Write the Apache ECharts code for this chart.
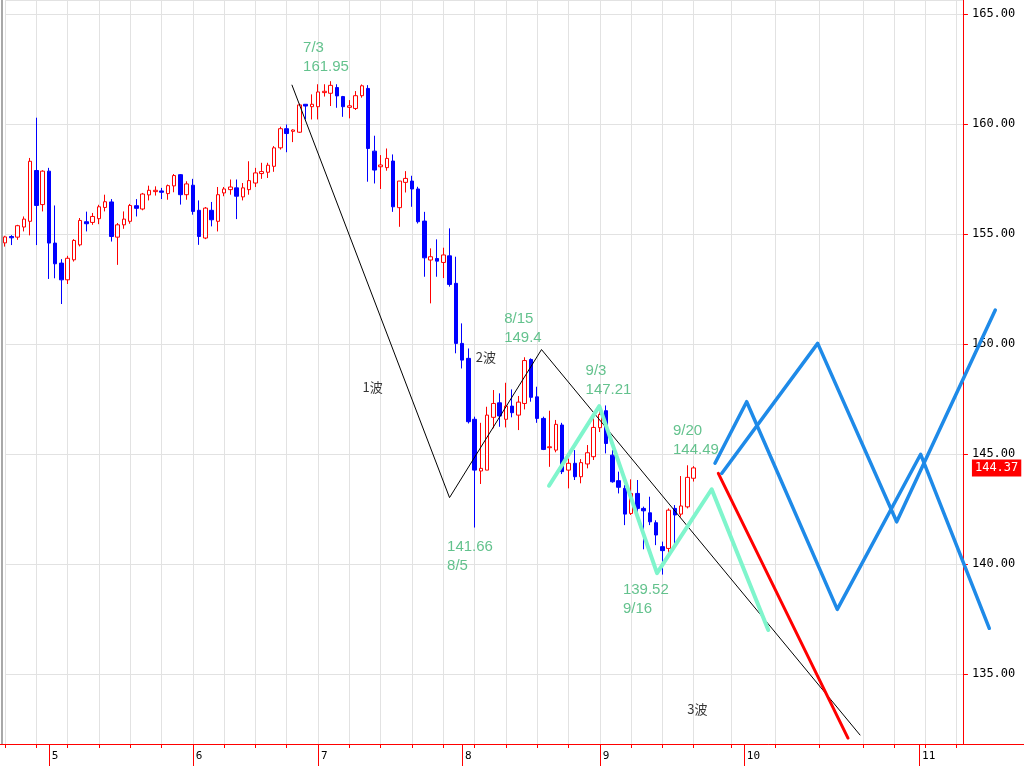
<!DOCTYPE html>
<html><head><meta charset="utf-8">
<script src="https://cdn.jsdelivr.net/npm/echarts@6/dist/echarts.min.js"></script>
<style>html,body{margin:0;padding:0;background:#fff}#c{width:1024px;height:768px}</style>
</head><body><div id="c"></div>
<script>
// ---- candle data ----
const opens  = [154.60,154.89,154.86,155.32,155.58,157.89,156.34,157.86,154.59,153.68,
152.92,153.83,154.51,155.56,155.53,155.70,156.21,156.46,154.86,155.42,
155.58,156.29,156.14,156.78,156.93,156.96,156.84,157.19,157.70,156.79,
157.22,156.08,154.82,156.08,155.58,156.87,157.02,157.10,156.69,157.02,
157.32,157.75,157.81,158.08,158.92,159.79,159.67,159.63,160.90,160.79,
160.79,161.43,161.40,161.66,161.25,160.76,160.71,161.29,161.62,158.77,
158.06,158.02,158.32,156.20,157.35,157.41,157.05,155.59,153.82,153.89,
153.71,154.01,152.76,150.03,149.35,146.58,144.23,144.27,146.67,147.33,
146.58,147.18,146.77,147.30,149.30,147.60,146.62,145.29,145.18,146.32,
144.27,144.58,143.97,144.55,144.88,146.20,146.97,144.95,143.79,143.44,
142.30,143.21,142.53,142.33,141.88,140.79,140.71,142.53,142.27,142.60,
143.90];
const highs  = [154.92,154.95,155.42,155.80,158.46,160.29,157.90,158.01,156.30,153.86,
154.01,154.77,155.73,156.02,155.96,156.33,156.79,156.59,155.50,156.03,
156.37,156.59,156.87,157.20,157.17,157.10,157.25,157.73,157.73,157.40,
157.51,156.53,156.23,156.46,157.14,157.14,157.48,157.48,157.32,158.31,
158.01,158.24,158.24,159.00,159.88,159.98,159.76,160.93,160.90,161.35,
161.81,161.81,161.95,161.81,161.28,161.09,161.50,161.80,161.77,159.47,
158.59,158.89,158.62,157.41,157.86,157.65,157.15,156.01,154.35,154.76,
154.38,155.26,153.97,150.94,149.80,146.70,146.42,147.15,147.91,147.76,
148.24,147.94,147.64,149.40,149.35,148.06,146.70,146.97,146.55,146.42,
144.80,145.18,144.77,145.41,146.67,147.10,147.21,145.18,144.20,143.59,
143.85,143.82,142.61,143.06,141.99,141.02,142.53,142.68,144.00,144.49,
144.45];
const lows   = [154.43,154.50,154.74,155.12,154.94,154.50,156.03,152.96,152.99,151.82,
152.73,153.75,154.44,155.12,155.42,155.45,156.03,154.66,153.60,155.24,
155.47,155.80,156.08,156.53,156.75,156.59,156.56,156.90,156.34,156.56,
155.88,154.51,154.77,155.35,155.12,156.72,156.79,155.68,156.53,156.79,
157.14,157.51,157.55,157.83,158.84,158.72,159.18,159.60,160.21,160.21,
160.21,161.25,160.82,160.74,160.33,160.26,160.64,161.20,157.38,157.30,
157.05,157.88,156.01,155.33,156.89,156.24,155.48,153.06,151.85,153.06,
153.00,152.61,149.58,148.89,146.39,141.66,143.64,144.27,146.17,146.24,
146.21,146.67,146.09,147.03,147.38,146.42,145.18,144.42,145.08,144.09,
143.44,143.82,143.67,144.35,144.73,146.00,145.03,143.70,143.21,141.77,
142.23,142.08,140.67,141.77,140.86,139.52,140.33,140.79,142.15,142.53,
143.75];
const closes = [154.87,154.83,155.38,155.68,158.31,156.30,157.86,154.59,153.65,152.92,
153.90,154.71,155.62,155.47,155.80,156.24,156.47,154.89,155.42,155.68,
156.30,156.17,156.82,156.99,156.99,156.90,157.20,157.66,156.79,157.28,
156.03,154.89,156.18,155.65,156.79,157.05,157.14,156.72,157.10,157.43,
157.78,157.84,158.13,158.92,159.79,159.57,159.73,160.87,160.82,160.90,
161.46,161.49,161.76,161.28,160.79,160.83,161.29,161.74,158.89,157.91,
158.14,158.44,156.24,157.41,157.53,157.05,155.56,153.92,153.97,153.77,
154.05,152.71,150.03,149.27,146.47,144.27,144.35,146.77,147.30,146.73,
147.18,146.88,147.36,149.25,147.58,146.62,145.21,145.33,146.35,144.20,
144.58,143.97,144.61,145.06,146.21,146.80,145.48,143.74,143.49,142.27,
143.21,142.53,142.42,141.92,141.32,140.61,142.45,142.23,142.64,143.94,
144.37];
const lastPrice = 144.37;
const slotCount = 154;

// ---- axis ticks ----
const weekIdx = [0,5,10,15,20,25,30,35,40,45,50,55,60,65,70,75,80,85,90,95,100,105,110,
                 116,123,130,137,142,147,152];
const monthIdx = [7,30,50,73,95,118,146];
const monthLabels = ['5','6','7','8','9','10','11'];

// ---- wave lines (x in slot units, y in price) ----
const blackX = [45.84, 71.0, 85.69, 136.56];
const blackY = [161.77, 143.02, 149.75, 132.23];
const cyanX  = [86.89, 94.92, 104.14, 112.87, 121.91];
const cyanY  = [143.56, 147.18, 139.59, 143.40, 137.00];
const redX   = [113.93, 134.64];
const redY   = [144.12, 132.09];
const blueAX = [113.4, 118.46, 132.93, 146.25, 157.21];
const blueAY = [144.58, 147.38, 137.94, 144.99, 137.08];
const blueBX = [114.47, 129.8, 142.42, 158.17];
const blueBY = [144.12, 150.03, 141.92, 151.55];

// ---- annotations ----
const annIdx   = [52, 83, 96, 109, 75, 105];
const annPrice = [161.95, 149.4, 147.21, 144.49, 141.66, 139.52];
const annText  = ['7/3\n161.95','8/15\n149.4','9/3\n147.21','9/20\n144.49','141.66\n8/5','139.52\n9/16'];
const annOff   = [[-27,-42],[-20,-47],[-20,-44],[-14,-43],[-27,10],[-39,6]];
const waveX = [58.7, 76.8, 110.6];
const waveY = [148.06, 149.40, 133.41];
const waveText = ['1波','2波','3波'];

// categories (trading days, then future slots)
const categories = [];
{
  const d = new Date(2024, 3, 22);
  while (categories.length < opens.length) {
    const wd = d.getDay();
    if (wd !== 0 && wd !== 6) categories.push((d.getMonth()+1) + '/' + d.getDate());
    d.setDate(d.getDate() + 1);
  }
  let k = 1;
  while (categories.length < slotCount) categories.push('+' + (k++));
}

const candles = opens.map((o, i) => [o, closes[i], lows[i], highs[i]]);
const zip = (xs, ys) => xs.map((x, i) => [x, ys[i]]);
const yMin = 131.82, yMax = 165.64;

// layout: plot area starts at x=5 (first slot) and each slot is SLOT px wide
const W = 1024, LEFT = 5, SLOT = 6.261;
const plotRight = W - LEFT - SLOT * (slotCount - 1);
const fullMin = -LEFT / SLOT, fullMax = (W - LEFT) / SLOT;

function lineSeries(xs, ys, color, width, z) {
  return { type: 'line', xAxisIndex: 3, yAxisIndex: 2, data: zip(xs, ys), symbol: 'none',
    clip: false, silent: true, z: z,
    lineStyle: { color: color, width: width, cap: 'round', join: 'round' } };
}

const chart = echarts.init(document.getElementById('c'), null, { renderer: 'canvas' });
chart.setOption({
  animation: false,
  backgroundColor: '#ffffff',
  grid: [
    { left: LEFT, right: plotRight, top: 0, bottom: 24 },
    { left: 0, right: 0, top: 0, bottom: 24 }
  ],
  xAxis: [
    { type: 'category', gridIndex: 0, data: categories, boundaryGap: false, position: 'bottom',
      axisLine: { show: false, onZero: false },
      axisTick: { show: true, length: 4, interval: (i) => weekIdx.includes(i), lineStyle: { color: '#ff0000' } },
      axisLabel: { show: false },
      splitLine: { show: true, interval: (i) => weekIdx.includes(i), lineStyle: { color: '#e2e2e2', width: 1 } } },
    { type: 'value', gridIndex: 0, min: 0, max: slotCount - 1, show: false },
    { type: 'category', gridIndex: 0, data: categories, boundaryGap: false, position: 'bottom',
      axisLine: { show: false, onZero: false },
      axisTick: { show: true, length: 22, interval: (i) => monthIdx.includes(i), lineStyle: { color: '#ff0000' } },
      axisLabel: { show: true, interval: (i) => monthIdx.includes(i),
        formatter: (v, i) => { const k = monthIdx.indexOf(i); return k >= 0 ? monthLabels[k] : ''; },
        align: 'left', padding: [0, 0, 0, 3], margin: 7, color: '#000',
        fontFamily: 'DejaVu Sans Mono', fontSize: 11 },
      splitLine: { show: false } },
    { type: 'value', gridIndex: 1, min: fullMin, max: fullMax, position: 'bottom',
      axisLine: { show: true, onZero: false, lineStyle: { color: '#ff0000', width: 1 } },
      axisTick: { show: false }, axisLabel: { show: false }, splitLine: { show: false } }
  ],
  yAxis: [
    { type: 'value', gridIndex: 0, position: 'right', min: yMin, max: yMax,
      axisLine: { show: true, onZero: false, lineStyle: { color: '#ff0000', width: 1 } },
      axisTick: { show: true, length: 5, lineStyle: { color: '#ff0000' } },
      axisLabel: { margin: 9, color: '#000', fontFamily: 'DejaVu Sans Mono', fontSize: 12,
        formatter: (v) => v.toFixed(2), showMinLabel: false, showMaxLabel: false },
      splitLine: { show: true, lineStyle: { color: '#e2e2e2', width: 1 } } },
    { type: 'value', gridIndex: 0, position: 'left', offset: 3, min: yMin, max: yMax,
      axisLine: { show: true, onZero: false, lineStyle: { color: '#a8a8a8', width: 2 } },
      axisTick: { show: false }, axisLabel: { show: false }, splitLine: { show: false } },
    { type: 'value', gridIndex: 1, min: yMin, max: yMax,
      axisLine: { show: false, onZero: false }, axisTick: { show: false },
      axisLabel: { show: false }, splitLine: { show: false } }
  ],
  series: [
    { type: 'candlestick', xAxisIndex: 0, yAxisIndex: 0, data: candles, barWidth: 4, clip: false, z: 3,
      itemStyle: { color: '#ffffff', color0: '#0000ff', borderColor: '#ff0000', borderColor0: '#0000ff', borderWidth: 1 } },
    { type: 'line', xAxisIndex: 1, yAxisIndex: 0, data: [[slotCount - 1, lastPrice]], symbol: 'none',
      clip: false, silent: true, z: 9, lineStyle: { width: 0 },
      markLine: { symbol: ['none', 'none'], silent: true, animation: false,
        lineStyle: { width: 0, color: 'rgba(0,0,0,0)' },
        label: { show: true, position: 'end', distance: 9, formatter: () => lastPrice.toFixed(2),
          color: '#ffffff', backgroundColor: '#ff0000', padding: [3, 3, 2, 3],
          fontFamily: 'DejaVu Sans Mono', fontSize: 12 },
        data: [{ yAxis: lastPrice }] } },
    lineSeries(blackX, blackY, '#000000', 1, 4),
    lineSeries(cyanX, cyanY, '#7ff5cc', 4, 5),
    lineSeries(redX, redY, '#ff0000', 3, 6),
    lineSeries(blueAX, blueAY, '#1e8ae8', 3.5, 7),
    lineSeries(blueBX, blueBY, '#1e8ae8', 3.5, 7),
    { type: 'scatter', xAxisIndex: 3, yAxisIndex: 2, symbolSize: 1, silent: true, z: 8,
      itemStyle: { color: 'rgba(0,0,0,0)' },
      data: annIdx.map((x, i) => ({ value: [x - fullMin + fullMin, annPrice[i]],
        label: { show: true, position: annOff[i], formatter: annText[i], align: 'left', verticalAlign: 'top',
          color: '#3cb371', fontFamily: 'Liberation Sans', fontSize: 15, lineHeight: 19 } })) },
    { type: 'scatter', xAxisIndex: 3, yAxisIndex: 2, symbolSize: 1, silent: true, z: 8,
      itemStyle: { color: 'rgba(0,0,0,0)' },
      data: waveX.map((x, i) => ({ value: [x, waveY[i]],
        label: { show: true, position: 'inside', formatter: waveText[i],
          color: '#000', fontFamily: 'Noto Sans CJK JP', fontSize: 13 } })) }
  ]
});
</script>
</body></html>
